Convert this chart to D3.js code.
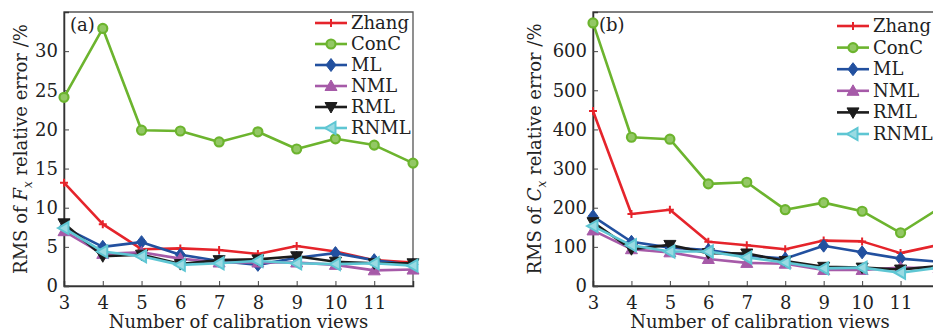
<!DOCTYPE html>
<html><head><meta charset="utf-8">
<script src="https://cdn.jsdelivr.net/npm/d3@7"></script>
<style>
html,body{margin:0;padding:0;background:#fff;}
text{font-family:"DejaVu Serif",serif;fill:#222;}
</style></head>
<body><svg id="c" width="933" height="333"></svg>
<script>
const categories = [3,4,5,6,7,8,9,10,11,12];
const seriesNames = ["Zhang","ConC","ML","NML","RML","RNML"];
const xTicks = [3,4,5,6,7,8,9,10,11];
const yTicksF = [0,5,10,15,20,25,30];
const yTicksC = [0,100,200,300,400,500,600];

const zhangF = [13.2, 7.9, 4.7, 4.8, 4.6, 4.1, 5.1, 4.4, 3.3, 3.0];
const concF  = [24.1, 32.9, 19.9, 19.8, 18.4, 19.7, 17.5, 18.8, 18.0, 15.7];
const mlF    = [7.5, 5.0, 5.6, 4.0, 3.2, 2.7, 3.6, 4.2, 3.3, 2.7];
const nmlF   = [7.0, 4.1, 4.3, 3.5, 3.0, 3.0, 3.0, 2.7, 2.0, 2.1];
const rmlF   = [8.0, 3.8, 4.0, 2.8, 3.3, 3.4, 3.8, 3.1, 2.9, 2.9];
const rnmlF  = [7.4, 4.4, 3.8, 2.7, 2.9, 3.2, 2.9, 2.8, 2.9, 2.6];

const zhangC = [447, 184, 195, 113, 104, 94, 116, 114, 84, 105];
const concC  = [672, 380, 375, 261, 265, 195, 213, 191, 136, 198];
const mlC    = [178, 113, 98, 92, 78, 70, 103, 86, 70, 62];
const nmlC   = [142, 94, 86, 69, 59, 57, 41, 41, 47, 45];
const rmlC   = [163, 94, 105, 84, 83, 64, 49, 47, 42, 51];
const rnmlC  = [153, 104, 88, 88, 73, 60, 45, 47, 34, 47];

const colors = {Zhang:"#e5242b", ConC:"#6cb42e", ML:"#22509f", NML:"#a65aa8", RML:"#1c1c1c", RNML:"#5ec6d3"};
const svg = d3.select("#c");

function marker(g, name, x, y){
  const c = colors[name];
  if(name==="Zhang"){
    g.append("path").attr("d",`M${x-4},${y}H${x+4}M${x},${y-4}V${y+4}`).attr("stroke",c).attr("stroke-width",2);
  } else if(name==="ConC"){
    g.append("circle").attr("cx",x).attr("cy",y).attr("r",4.5).attr("fill","#93c865").attr("stroke",c).attr("stroke-width",2.2);
  } else if(name==="ML"){
    g.append("path").attr("d",`M${x},${y-6.5}L${x+5},${y}L${x},${y+6.5}L${x-5},${y}Z`).attr("fill",c).attr("stroke",c).attr("stroke-width",1);
  } else if(name==="NML"){
    g.append("path").attr("d",`M${x},${y-6}L${x+6},${y+4.5}L${x-6},${y+4.5}Z`).attr("fill",c).attr("stroke",c).attr("stroke-width",1);
  } else if(name==="RML"){
    g.append("path").attr("d",`M${x},${y+6}L${x+6},${y-4.5}L${x-6},${y-4.5}Z`).attr("fill",c).attr("stroke",c).attr("stroke-width",1);
  } else {
    g.append("path").attr("d",`M${x-6},${y}L${x+4.5},${y-6}L${x+4.5},${y+6}Z`).attr("fill","#9adbe3").attr("stroke",c).attr("stroke-width",2);
  }
}

function chart(opt){
  const {x0,x1,y0,y1,ymax,yTicks,data,label,sym,legX,legY,legStep,ylabX} = opt;
  const x = d3.scaleLinear().domain([3,12]).range([x0,x1]);
  const y = d3.scaleLinear().domain([0,ymax]).range([y1,y0]);
  const g = svg.append("g");
  // frame
  g.append("path").attr("d",`M${x0},${y1}V${y0}H${x1}V${y1}Z`).attr("fill","none").attr("stroke","#555").attr("stroke-width",1.3);
  // axes
  const xa = g.append("g").attr("transform",`translate(0,${y1})`)
    .call(d3.axisBottom(x).tickValues(xTicks).tickSize(-5).tickPadding(10).tickFormat(d3.format("d")));
  xa.select(".domain").attr("stroke","#333").attr("stroke-width",1.5);
  xa.selectAll(".tick line").attr("stroke","#444");
  xa.selectAll("text").attr("font-size",18).attr("fill","#222").attr("font-family","DejaVu Serif");
  const ya = g.append("g").attr("transform",`translate(${x0},0)`)
    .call(d3.axisLeft(y).tickValues(yTicks).tickSize(-5).tickPadding(6));
  ya.select(".domain").attr("stroke","#333").attr("stroke-width",1.5);
  ya.selectAll(".tick line").attr("stroke","#444");
  ya.selectAll("text").attr("font-size",18).attr("fill","#222").attr("font-family","DejaVu Serif");
  // series
  const line = d3.line().x((d,i)=>x(categories[i])).y(d=>y(d));
  seriesNames.forEach((name,k)=>{
    const vals = data[k];
    g.append("path").attr("d",line(vals)).attr("fill","none").attr("stroke",colors[name]).attr("stroke-width",2.6).attr("stroke-linejoin","round");
    const mg = g.append("g");
    vals.forEach((v,i)=>marker(mg,name,x(categories[i]),y(v)));
  });
  // legend
  seriesNames.forEach((name,k)=>{
    const ly = legY + k*legStep;
    g.append("rect").attr("x",legX-3).attr("y",ly-10).attr("width",95).attr("height",20).attr("fill","#fff").attr("opacity",0);
    g.append("line").attr("x1",legX).attr("x2",legX+32).attr("y1",ly).attr("y2",ly).attr("stroke",colors[name]).attr("stroke-width",2.6);
    marker(g,name,legX+16,ly);
    g.append("text").attr("x",legX+36).attr("y",ly+6).attr("font-size",18).text(name);
  });
  // panel label
  g.append("text").attr("x",x0+6).attr("y",y0+19).attr("font-size",18).text(label);
  // axis titles
  g.append("text").attr("x",(x0+Math.min(x1,933))/2 - (x1>933?3:0)).attr("y",328).attr("text-anchor","middle").attr("font-size",18).text("Number of calibration views");
  const yl = g.append("text").attr("transform",`translate(${ylabX},${(y0+y1)/2}) rotate(-90)`).attr("text-anchor","middle").attr("font-size",18);
  yl.append("tspan").text("RMS of ");
  yl.append("tspan").attr("font-style","italic").text(sym);
  yl.append("tspan").attr("font-style","italic").attr("font-size",12).attr("dy",5).text("x");
  yl.append("tspan").attr("dy",-5).text(" relative error /%");
}

chart({x0:64,x1:413,y0:12,y1:286,ymax:35,yTicks:yTicksF,data:[zhangF,concF,mlF,nmlF,rmlF,rnmlF],label:"(a)",sym:"F",legX:315,legY:23,legStep:21,ylabX:27});
chart({x0:593,x1:939,y0:12,y1:286,ymax:700,yTicks:yTicksC,data:[zhangC,concC,mlC,nmlC,rmlC,rnmlC],label:"(b)",sym:"C",legX:837,legY:26,legStep:21.6,ylabX:541});
</script></body></html>
